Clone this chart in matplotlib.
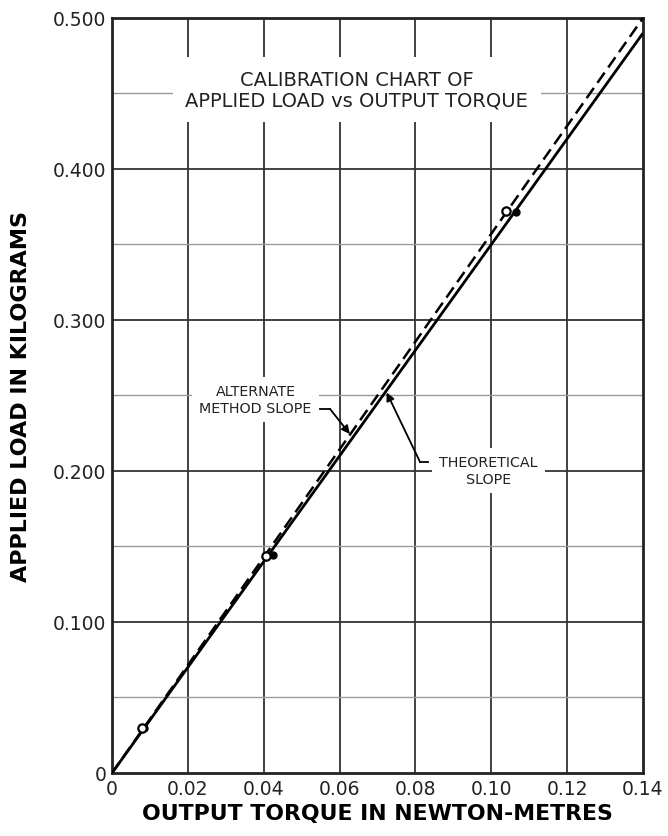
import matplotlib
matplotlib.use("Agg")
import matplotlib.pyplot as plt
import numpy as np

# Data
x_ticks = [0, 0.02, 0.04, 0.06, 0.08, 0.10, 0.12, 0.14]
x_tick_labels = ["0", "0.02", "0.04", "0.06", "0.08", "0.10", "0.12", "0.14"]
y_ticks = [0, 0.1, 0.2, 0.3, 0.4, 0.5]
y_tick_labels = ["0", "0.100", "0.200", "0.300", "0.400", "0.500"]
y_minor = [0.05, 0.15, 0.25, 0.35, 0.45]

alt_x = [0.0, 0.14]
alt_y = [0.0, 0.500]
theo_x = [0.0, 0.14]
theo_y = [0.0, 0.490]

open_x = [0.008, 0.0405, 0.104]
open_y = [0.030, 0.144, 0.372]
filled_x = [0.0085, 0.0424, 0.1064]
filled_y = [0.030, 0.1444, 0.3717]

plt.rcParams['font.family'] = ['DejaVu Sans']
fig = plt.figure(figsize=(6.68, 8.37), dpi=100)
ax = fig.add_axes([0.1677, 0.0753, 0.7949, 0.902])
ax.set_xlim(0, 0.14)
ax.set_ylim(0, 0.5)

# grid
for xv in x_ticks[1:-1]:
    ax.axvline(xv, color='#333333', lw=1.3, zorder=1)
for yv in y_ticks[1:-1]:
    ax.axhline(yv, color='#333333', lw=1.3, zorder=1)
for yv in y_minor:
    ax.axhline(yv, color='#999999', lw=1.0, zorder=1)

ax.plot(theo_x, theo_y, color='black', lw=2.0, zorder=3, solid_capstyle='butt')
ax.plot(alt_x, alt_y, color='black', lw=1.8, dashes=(5, 2.5), zorder=3)
ax.plot(filled_x, filled_y, 'o', ms=5, color='black', zorder=4)
ax.plot(open_x, open_y, 'o', ms=6, mfc='white', mec='black', mew=1.6, zorder=5)

txtc = '#222222'
ax.text(0.0645, 0.4525, "CALIBRATION CHART OF\nAPPLIED LOAD vs OUTPUT TORQUE",
        ha='center', va='center', fontsize=14, color=txtc, linespacing=1.15,
        zorder=6, bbox=dict(facecolor='white', edgecolor='none', pad=9))

ax.text(0.0378, 0.2475, "ALTERNATE\nMETHOD SLOPE", ha='center', va='center',
        fontsize=10.3, color=txtc, linespacing=1.25, zorder=6,
        bbox=dict(facecolor='white', edgecolor='none', pad=5))
ax.plot([0.0548, 0.0575], [0.241, 0.241], color='black', lw=1.3, zorder=6)
ax.annotate('', xy=(0.0627, 0.2245), xytext=(0.0575, 0.241),
            arrowprops=dict(arrowstyle='-|>', color='black', lw=1.3,
                            mutation_scale=12, shrinkA=0, shrinkB=0), zorder=6)

ax.text(0.0993, 0.2005, "THEORETICAL\nSLOPE", ha='center', va='center',
        fontsize=10.3, color=txtc, linespacing=1.25, zorder=6,
        bbox=dict(facecolor='white', edgecolor='none', pad=5))
ax.plot([0.0812, 0.0832], [0.206, 0.206], color='black', lw=1.3, zorder=6)
ax.annotate('', xy=(0.0724, 0.252), xytext=(0.0812, 0.206),
            arrowprops=dict(arrowstyle='-|>', color='black', lw=1.3,
                            mutation_scale=12, shrinkA=0, shrinkB=0), zorder=6)

ax.set_xticks(x_ticks)
ax.set_xticklabels(x_tick_labels)
ax.set_yticks(y_ticks)
ax.set_yticklabels(y_tick_labels)
ax.tick_params(length=0, labelsize=13.5, colors=txtc, pad=4)
for s in ax.spines.values():
    s.set_linewidth(2.0)
    s.set_color('#222222')

ax.set_xlabel("OUTPUT TORQUE IN NEWTON-METRES", fontsize=15.8, fontweight='bold',
              color='black', labelpad=4)
ax.set_ylabel("APPLIED LOAD IN KILOGRAMS", fontsize=16, fontweight='bold',
              color='black', labelpad=16)

fig.savefig("out.png", dpi=100)
